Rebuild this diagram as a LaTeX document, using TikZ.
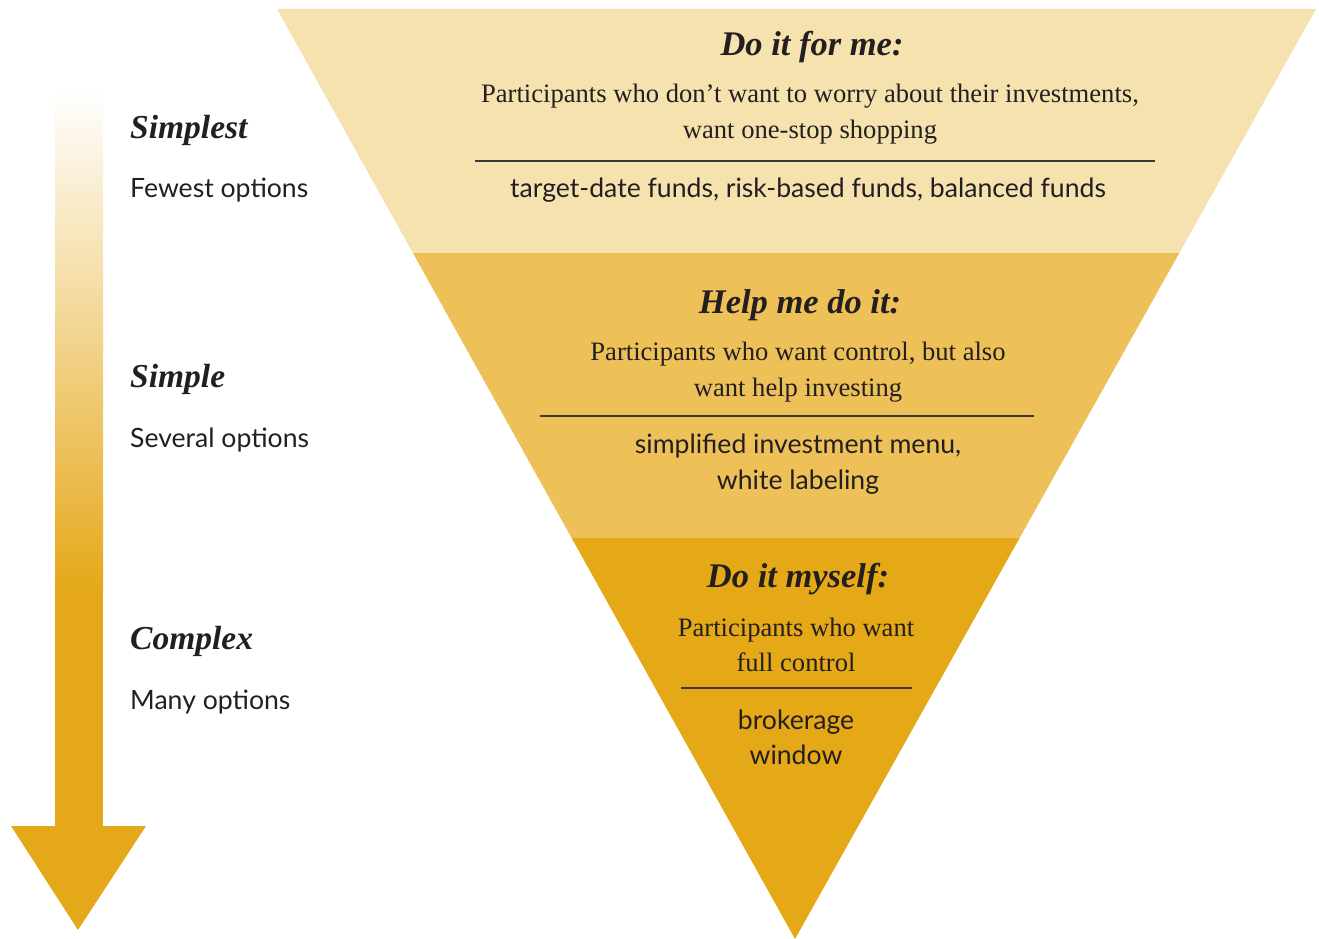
\documentclass[tikz,border=0pt]{standalone}
\usepackage{fontspec}
\setmainfont{Liberation Serif}
\newfontfamily\labelsans{Lato}
\begin{document}
\begin{tikzpicture}[x=1pt,y=-1pt,
  heading/.style={font=\fontsize{34.5}{40}\selectfont\bfseries\itshape, text=ink, anchor=base, inner sep=0pt},
  bodyline/.style={font=\fontsize{26.6}{34}\selectfont, text=ink, anchor=base, inner sep=0pt},
  fundline/.style={font=\labelsans\fontsize{26.6}{32}\selectfont, text=ink, anchor=base, inner sep=0pt},
  sidehead/.style={font=\fontsize{33.5}{38}\selectfont\bfseries\itshape, text=ink, anchor=base west, inner sep=0pt},
  sidesub/.style={font=\labelsans\fontsize{26.6}{32}\selectfont, text=ink, anchor=base west, inner sep=0pt},
  rule/.style={draw=rulegray, line width=1.4pt}]
\definecolor{tierA}{HTML}{F6E2AF}
\definecolor{tierB}{HTML}{EDC058}
\definecolor{tierC}{HTML}{E5A816}
\definecolor{arrowgold}{HTML}{E5A81A}
\definecolor{ink}{HTML}{231F20}
\definecolor{rulegray}{HTML}{3A3838}
\useasboundingbox (0,0) rectangle (1319,939);

% three bands of the inverted pyramid
\fill[fill=tierA] (277,9) -- (1316,9) -- (1179.3,253) -- (412.9,253) -- cycle;
\fill[fill=tierB] (412.9,253) -- (1179.3,253) -- (1019.6,538) -- (571.6,538) -- cycle;
\fill[fill=tierC] (571.6,538) -- (1019.6,538) -- (795,939) -- cycle;

% complexity arrow on the left
\shade[top color=white, bottom color=arrowgold] (55,90) rectangle (103,590);
\fill[fill=arrowgold] (55,589) rectangle (103,827);
\fill[fill=arrowgold] (11,826) -- (146,826) -- (78,930) -- cycle;

% side labels
\node[sidehead] (s1) at (130,139) {Simplest};
\node[sidesub]  (s1b) at (130,197) {Fewest options};
\node[sidehead] (s2) at (130,387) {Simple};
\node[sidesub]  (s2b) at (130,447) {Several options};
\node[sidehead] (s3) at (130,649) {Complex};
\node[sidesub]  (s3b) at (130,709) {Many options};

% top tier
\node[heading]  (h1) at (812,56) {Do it for me:};
\node[bodyline] (b1a) at (810,103) {Participants who don’t want to worry about their investments,};
\node[bodyline] (b1b) at (810,139) {want one-stop shopping};
\coordinate (r1l) at (475,161); \coordinate (r1r) at (1155,161);
\draw[rule] (r1l) -- (r1r);
\node[fundline] (f1) at (808,197) {target-date funds, risk-based funds, balanced funds};

% middle tier
\node[heading]  (h2) at (800,313) {Help me do it:};
\node[bodyline] (b2a) at (798,360) {Participants who want control, but also};
\node[bodyline] (b2b) at (798,396) {want help investing};
\coordinate (r2l) at (540,416); \coordinate (r2r) at (1034,416);
\draw[rule] (r2l) -- (r2r);
\node[fundline] (f2a) at (798,453) {simplified investment menu,};
\node[fundline] (f2b) at (798,489) {white labeling};

% bottom tier
\node[heading]  (h3) at (798,587) {Do it myself:};
\node[bodyline] (b3a) at (796,636) {Participants who want};
\node[bodyline] (b3b) at (796,671) {full control};
\coordinate (r3l) at (681,688); \coordinate (r3r) at (912,688);
\draw[rule] (r3l) -- (r3r);
\node[fundline] (f3a) at (796,729) {brokerage};
\node[fundline] (f3b) at (796,764) {window};
\end{tikzpicture}
\end{document}
